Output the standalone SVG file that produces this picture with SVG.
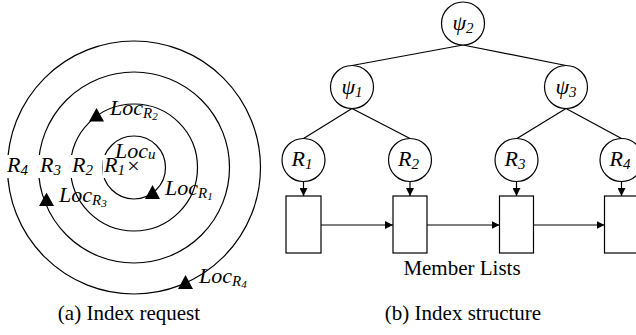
<svg xmlns="http://www.w3.org/2000/svg" width="636" height="335" viewBox="0 0 636 335">
<style>
.ln{fill:none;stroke:#000;stroke-width:1.2}
.nd{fill:#fff;stroke:#000;stroke-width:1.2}
.tri{fill:#000}
.bg{fill:#fff}
</style>
<defs>
<marker id="ah" viewBox="0 0 8 8" refX="8" refY="4" markerWidth="8" markerHeight="8" markerUnits="userSpaceOnUse" orient="auto">
<path d="M0,0 L8,4 L0,8 Z" fill="#000"/>
</marker>
</defs>

<!-- (a) Index request -->
<g id="rings">
<circle class="ln" cx="134" cy="167.5" r="31.5"/>
<circle class="ln" cx="134" cy="167.5" r="63.5"/>
<circle class="ln" cx="134" cy="167.5" r="95.5"/>
<circle class="ln" cx="134" cy="167.5" r="126.5"/>
</g>
<g id="radius-labels" font-family="'Liberation Serif', 'Times New Roman', 'DejaVu Serif', serif" font-style="italic" font-size="22" fill="#000">
<rect class="bg" x="5" y="155" width="28" height="23"/>
<rect class="bg" x="38" y="155" width="28" height="23"/>
<rect class="bg" x="70" y="155" width="28" height="23"/>
<rect class="bg" x="102.5" y="155" width="24" height="23"/>
<text x="7" y="172">R<tspan font-size="15" dy="3">4</tspan></text>
<text x="40" y="172">R<tspan font-size="15" dy="3">3</tspan></text>
<text x="72" y="172">R<tspan font-size="15" dy="3">2</tspan></text>
<text x="104" y="172">R<tspan font-size="15" dy="3">1</tspan></text>
</g>
<g id="loc-u" font-family="'Liberation Serif', 'Times New Roman', 'DejaVu Serif', serif" font-size="22" fill="#000">
<text x="133.5" y="173" text-anchor="middle">×</text>
<text x="115" y="158" font-style="italic">Loc<tspan font-size="15" dy="1">u</tspan></text>
</g>
<g id="loc-r1" font-family="'Liberation Serif', 'Times New Roman', 'DejaVu Serif', serif" font-style="italic" font-size="22" fill="#000">
<path class="tri" d="M152.5,185 L160,199 L145,199 Z"/>
<text x="165" y="195">Loc<tspan font-size="15" dy="3">R<tspan font-size="11" dy="2">1</tspan></tspan></text>
</g>
<g id="loc-r2" font-family="'Liberation Serif', 'Times New Roman', 'DejaVu Serif', serif" font-style="italic" font-size="22" fill="#000">
<path class="tri" d="M96.5,108 L104,121.5 L89,121.5 Z"/>
<text x="110" y="115">Loc<tspan font-size="15" dy="3">R<tspan font-size="11" dy="2">2</tspan></tspan></text>
</g>
<g id="loc-r3" font-family="'Liberation Serif', 'Times New Roman', 'DejaVu Serif', serif" font-style="italic" font-size="22" fill="#000">
<path class="tri" d="M46.5,192.5 L54,206 L39,206 Z"/>
<text x="59" y="201.5">Loc<tspan font-size="15" dy="3">R<tspan font-size="11" dy="2">3</tspan></tspan></text>
</g>
<g id="loc-r4" font-family="'Liberation Serif', 'Times New Roman', 'DejaVu Serif', serif" font-style="italic" font-size="22" fill="#000">
<path class="tri" d="M185.5,275 L193,289 L178,289 Z"/>
<text x="199" y="283">Loc<tspan font-size="15" dy="3">R<tspan font-size="11" dy="2">4</tspan></tspan></text>
</g>
<text id="caption-a" x="129" y="320" font-family="'Liberation Serif', 'Times New Roman', 'DejaVu Serif', serif" font-size="21" text-anchor="middle" fill="#000">(a) Index request</text>

<!-- (b) Index structure -->
<g id="connectors">
<line class="ln" x1="463" y1="45" x2="352" y2="65.5"/>
<line class="ln" x1="463" y1="45" x2="566" y2="65.5"/>
<line class="ln" x1="352" y1="108.5" x2="303.5" y2="138.5"/>
<line class="ln" x1="352" y1="108.5" x2="410" y2="138.5"/>
<line class="ln" x1="566" y1="108.5" x2="517" y2="138.5"/>
<line class="ln" x1="566" y1="108.5" x2="621.5" y2="138.5"/>
<line class="ln" x1="303.5" y1="181.5" x2="303.5" y2="196" marker-end="url(#ah)"/>
<line class="ln" x1="410" y1="181.5" x2="410" y2="196" marker-end="url(#ah)"/>
<line class="ln" x1="516.5" y1="181.5" x2="516.5" y2="196" marker-end="url(#ah)"/>
<line class="ln" x1="621.5" y1="181.5" x2="621.5" y2="196" marker-end="url(#ah)"/>
<line class="ln" x1="321" y1="225" x2="393" y2="225" marker-end="url(#ah)"/>
<line class="ln" x1="427" y1="225" x2="499.5" y2="225" marker-end="url(#ah)"/>
<line class="ln" x1="533.5" y1="225" x2="604.5" y2="225" marker-end="url(#ah)"/>
</g>
<g id="tree-nodes" font-family="'Liberation Serif', 'Times New Roman', 'DejaVu Serif', serif" font-style="italic" font-size="22" fill="#000">
<g id="psi2"><circle class="nd" cx="463" cy="23.5" r="21.5"/><text x="463" y="30" text-anchor="middle">ψ<tspan font-size="15" dy="3">2</tspan></text></g>
<g id="psi1"><circle class="nd" cx="352" cy="87" r="21.5"/><text x="352" y="93.5" text-anchor="middle">ψ<tspan font-size="15" dy="3">1</tspan></text></g>
<g id="psi3"><circle class="nd" cx="566" cy="87" r="21.5"/><text x="566" y="93.5" text-anchor="middle">ψ<tspan font-size="15" dy="3">3</tspan></text></g>
<g id="r1"><circle class="nd" cx="303.5" cy="160" r="21.5"/><text x="302" y="166" text-anchor="middle">R<tspan font-size="15" dy="3">1</tspan></text></g>
<g id="r2"><circle class="nd" cx="410" cy="160" r="21.5"/><text x="408.5" y="166" text-anchor="middle">R<tspan font-size="15" dy="3">2</tspan></text></g>
<g id="r3"><circle class="nd" cx="516.5" cy="160" r="21.5"/><text x="515" y="166" text-anchor="middle">R<tspan font-size="15" dy="3">3</tspan></text></g>
<g id="r4"><circle class="nd" cx="621.5" cy="160" r="21.5"/><text x="620" y="166" text-anchor="middle">R<tspan font-size="15" dy="3">4</tspan></text></g>
</g>
<g id="list1"><rect class="nd" x="286" y="196" width="35" height="57"/></g>
<g id="list2"><rect class="nd" x="393" y="196" width="34" height="57"/></g>
<g id="list3"><rect class="nd" x="499.5" y="196" width="34" height="57"/></g>
<g id="list4"><rect class="nd" x="604.5" y="196" width="34" height="57"/></g>
<text id="member-lists" x="462" y="275" font-family="'Liberation Serif', 'Times New Roman', 'DejaVu Serif', serif" font-size="21" text-anchor="middle" fill="#000">Member Lists</text>
<text id="caption-b" x="463" y="320" font-family="'Liberation Serif', 'Times New Roman', 'DejaVu Serif', serif" font-size="21" text-anchor="middle" fill="#000">(b) Index structure</text>
</svg>
